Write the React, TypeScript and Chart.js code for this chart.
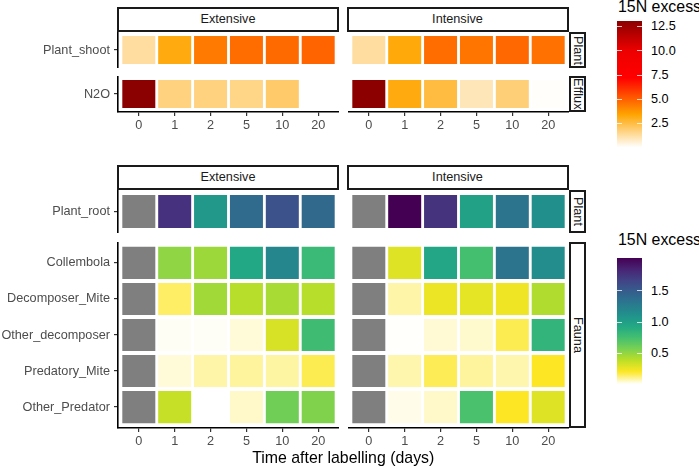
import React, { useEffect, useRef } from 'react';
import { Chart, registerables } from 'chart.js';

Chart.register(...registerables);

// ---------------- data ----------------
type Cell = number | null | 'NA';
type Stop = [number, string];

const days = ['0', '1', '2', '5', '10', '20'];
const systems = ['Extensive', 'Intensive'];

const plantShootRows = ['Plant_shoot'];
const effluxRows = ['N2O'];
const plantRootRows = ['Plant_root'];
const faunaRows = ['Collembola', 'Decomposer_Mite', 'Other_decomposer', 'Predatory_Mite', 'Other_Predator'];

const topFacets = ['Plant', 'Efflux'];
const bottomFacets = ['Plant', 'Fauna'];

// top heatmap (15N excess)
const shootExt: Cell[] = [1.27, 3.2, 4.4, 4.7, 4.75, 4.9];
const shootInt: Cell[] = [1.27, 3.25, 4.7, 4.5, 4.8, 4.6];
const n2oExt: Cell[] = [13.1, 1.7, 1.7, 1.6, 2.0, null];
const n2oInt: Cell[] = [13.05, 3.2, 2.55, 0.95, 1.8, 0.05];

// bottom heatmap (15N excess)
const rootExt: Cell[] = ['NA', 1.77, 1.06, 1.39, 1.57, 1.41];
const rootInt: Cell[] = ['NA', 2.03, 1.76, 0.99, 1.33, 1.12];

const collembolaExt: Cell[] = ['NA', 0.51, 0.47, 0.93, 1.19, 0.8];
const decompMiteExt: Cell[] = ['NA', 0.14, 0.46, 0.4, 0.44, 0.4];
const otherDecompExt: Cell[] = ['NA', 0.01, 0.008, 0.035, 0.31, 0.77];
const predMiteExt: Cell[] = ['NA', 0.036, 0.08, 0.09, 0.085, 0.16];
const otherPredExt: Cell[] = ['NA', 0.36, null, 0.05, 0.6, 0.55];

const collembolaInt: Cell[] = ['NA', 0.29, 0.95, 0.75, 1.33, 1.15];
const decompMiteInt: Cell[] = ['NA', 0.08, 0.25, 0.27, 0.24, 0.42];
const otherDecompInt: Cell[] = ['NA', 0.003, 0.04, 0.045, 0.16, 0.84];
const predMiteInt: Cell[] = ['NA', 0.075, 0.155, 0.09, 0.075, 0.2];
const otherPredInt: Cell[] = ['NA', 0.02, 0.05, 0.73, 0.2, 0.29];

const topLegendTicks = [2.5, 5.0, 7.5, 10.0, 12.5];
const bottomLegendTicks = [0.5, 1.0, 1.5];

const legendTitle = '15N excess';
const xTitle = 'Time after labelling (days)';

// ---------------- palettes ----------------
const topPalette: Stop[] = [
  [0, '#FFFFFF'],
  [3.4, '#FFA500'],
  [7.2, '#FF0000'],
  [10, '#EE0000'],
  [13.1, '#8B0000'],
];
const viridisRev = ['#FDE725', '#BDDF26', '#7AD151', '#44BF70', '#22A884', '#21918C', '#2A788E', '#355F8D', '#414487', '#482475', '#440154'];
const bottomPalette: Stop[] = [[0, '#FFFFFF'], ...viridisRev.map((c, i) => [0.2 + i * 0.183, c] as Stop)];
const NA_COLOR = '#7F7F7F';

function hexToRgb(h: string) {
  const n = parseInt(h.slice(1), 16);
  return [(n >> 16) & 255, (n >> 8) & 255, n & 255];
}
function colorFor(pal: Stop[], v: number): string {
  if (v <= pal[0][0]) return pal[0][1];
  for (let i = 1; i < pal.length; i++) {
    if (v <= pal[i][0]) {
      const [v0, c0] = pal[i - 1];
      const [v1, c1] = pal[i];
      const t = (v - v0) / (v1 - v0);
      const a = hexToRgb(c0);
      const b = hexToRgb(c1);
      const m = a.map((x, k) => Math.round(x + (b[k] - x) * t));
      return `rgb(${m[0]},${m[1]},${m[2]})`;
    }
  }
  return pal[pal.length - 1][1];
}
function numRange(lists: Cell[][]) {
  const vals = lists.flat().filter((v): v is number => typeof v === 'number');
  return [Math.min(...vals), Math.max(...vals)];
}

const FONT = '"Liberation Sans", Arial, Helvetica, sans-serif';
const AX_SIZE = 12.7;
const TITLE_SIZE = 15.9;

// ---------------- panel chart ----------------
interface PanelProps {
  rows: string[];
  values: Cell[][];
  palette: Stop[];
  left: number;
  top: number;
  width: number;
  height: number;
  showY: boolean;
  showX: boolean;
  half: number;
  xPad: number;
}

function Panel(p: PanelProps) {
  const ref = useRef<HTMLCanvasElement | null>(null);
  const yAxisW = p.showY ? p.left : 0;
  const xAxisH = p.showX ? 26 : 0;
  const cw = p.width + yAxisW;
  const ch = p.height + xAxisH;
  const canvasLeft = p.showY ? 0 : p.left;

  useEffect(() => {
    if (!ref.current) return;
    const datasets = p.rows.map((row, r) => {
      const pts: any[] = [];
      const cols: string[] = [];
      p.values[r].forEach((v, i) => {
        if (v === null) return;
        pts.push({ x: i, y: [r - p.half, r + p.half] });
        cols.push(v === 'NA' ? NA_COLOR : colorFor(p.palette, v));
      });
      return {
        label: row,
        data: pts,
        backgroundColor: cols,
        borderWidth: 0,
        grouped: false,
        barPercentage: 0.92,
        categoryPercentage: 1,
      };
    });
    const n = p.rows.length;
    const font = { family: FONT, size: AX_SIZE };
    const chart = new Chart(ref.current, {
      type: 'bar',
      data: { datasets } as any,
      options: {
        animation: false,
        responsive: false,
        maintainAspectRatio: false,
        devicePixelRatio: 1,
        layout: { padding: 0 },
        plugins: { legend: { display: false }, tooltip: { enabled: false } },
        scales: {
          x: {
            type: 'linear',
            min: -p.xPad,
            max: days.length - 1 + p.xPad,
            offset: false,
            display: p.showX,
            afterBuildTicks: (s: any) => {
              s.ticks = days.map((_, i) => ({ value: i }));
            },
            afterFit: (s: any) => {
              s.height = xAxisH;
              s.paddingLeft = 0;
              s.paddingRight = 0;
            },
            ticks: {
              callback: (v: any) => days[v],
              font,
              color: '#4D4D4D',
              padding: 1.5,
              autoSkip: false,
              maxRotation: 0,
              minRotation: 0,
            },
            grid: { display: true, drawOnChartArea: false, drawTicks: true, tickLength: 4, color: '#333333', lineWidth: 1.2, offset: false },
            border: { display: true, color: '#000000', width: 1.6 },
          },
          y: {
            type: 'linear',
            reverse: true,
            min: -0.58,
            max: n - 1 + 0.58,
            display: p.showY,
            afterBuildTicks: (s: any) => {
              s.ticks = p.rows.map((_, i) => ({ value: i }));
            },
            afterFit: (s: any) => {
              s.width = yAxisW;
              s.paddingTop = 0;
              s.paddingBottom = 0;
            },
            ticks: {
              callback: (v: any) => p.rows[v],
              font,
              color: '#4D4D4D',
              padding: 4,
              autoSkip: false,
            },
            grid: { display: true, drawOnChartArea: false, drawTicks: true, tickLength: 4, color: '#333333', lineWidth: 1.2 },
            border: { display: true, color: '#000000', width: 1.6 },
          },
        },
      } as any,
    });
    return () => chart.destroy();
  }, []);

  return (
    <canvas
      ref={ref}
      width={cw}
      height={ch}
      style={{ position: 'absolute', left: canvasLeft, top: p.top, width: cw, height: ch, display: 'block' }}
    />
  );
}

// ---------------- strips ----------------
function Strip(props: { text: string; left: number; top: number; width: number; height: number; vertical?: boolean }) {
  return (
    <div
      style={{
        position: 'absolute',
        left: props.left,
        top: props.top,
        width: props.width,
        height: props.height,
        boxSizing: 'border-box',
        border: '2px solid #1A1A1A',
        background: '#FFFFFF',
        display: 'flex',
        alignItems: 'center',
        justifyContent: 'center',
        fontFamily: FONT,
        fontSize: AX_SIZE,
        color: '#1A1A1A',
        lineHeight: 1,
        whiteSpace: 'nowrap',
        writingMode: props.vertical ? 'vertical-rl' : undefined,
      }}
    >
      {props.text}
    </div>
  );
}

// ---------------- colour bar legend ----------------
function ColorBar(props: { palette: Stop[]; min: number; max: number; ticks: number[]; top: number; titleTop: number }) {
  const left = 617;
  const width = 25;
  const height = 126;
  const ppu = height / (props.max - props.min);
  const stops: string[] = [];
  const N = 60;
  for (let i = 0; i <= N; i++) {
    const v = props.min + ((props.max - props.min) * i) / N;
    stops.push(`${colorFor(props.palette, v)} ${((i / N) * 100).toFixed(2)}%`);
  }
  return (
    <>
      <div
        style={{
          position: 'absolute',
          left: left + 1,
          top: props.titleTop,
          fontFamily: FONT,
          fontSize: TITLE_SIZE,
          lineHeight: `${TITLE_SIZE}px`,
          color: '#000',
          whiteSpace: 'nowrap',
        }}
      >
        {legendTitle}
      </div>
      <div
        style={{
          position: 'absolute',
          left,
          top: props.top,
          width,
          height,
          background: `linear-gradient(to top, ${stops.join(', ')})`,
        }}
      />
      {props.ticks.map((t) => {
        const y = props.top + (props.max - t) * ppu;
        return (
          <React.Fragment key={t}>
            <div style={{ position: 'absolute', left, top: y - 0.5, width: 5, height: 1, background: 'rgba(255,255,255,0.75)' }} />
            <div style={{ position: 'absolute', left: left + width - 5, top: y - 0.5, width: 5, height: 1, background: 'rgba(255,255,255,0.75)' }} />
            <div
              style={{
                position: 'absolute',
                left: 651,
                top: y - AX_SIZE / 2,
                fontFamily: FONT,
                fontSize: AX_SIZE,
                lineHeight: `${AX_SIZE}px`,
                color: '#000',
                whiteSpace: 'nowrap',
              }}
            >
              {t.toFixed(1)}
            </div>
          </React.Fragment>
        );
      })}
    </>
  );
}

// ---------------- app ----------------
export default function App() {
  const colLeft = [118, 347.5];
  const panelW = 221;
  const topValues = [
    [[shootExt], [n2oExt]],
    [[shootInt], [n2oInt]],
  ];
  const bottomValues = [
    [[rootExt], [collembolaExt, decompMiteExt, otherDecompExt, predMiteExt, otherPredExt]],
    [[rootInt], [collembolaInt, decompMiteInt, otherDecompInt, predMiteInt, otherPredInt]],
  ];
  const [tMin, tMax] = numRange([shootExt, shootInt, n2oExt, n2oInt]);
  const [bMin, bMax] = numRange(bottomValues.flat(2));

  const topRowsY = [
    { top: 32, height: 36 },
    { top: 76, height: 36 },
  ];
  const bottomRowsY = [
    { top: 190, height: 43 },
    { top: 242, height: 186 },
  ];
  const topRowLabels = [plantShootRows, effluxRows];
  const bottomRowLabels = [plantRootRows, faunaRows];

  return (
    <div
      style={{
        position: 'fixed',
        left: 0,
        top: 0,
        width: 699,
        height: 467,
        background: '#FFFFFF',
        overflow: 'hidden',
      }}
    >
      {systems.map((s, c) => (
        <React.Fragment key={s}>
          <Strip text={s} left={colLeft[c] - 1} top={7} width={panelW + 1} height={25} />
          <Strip text={s} left={colLeft[c] - 1} top={165} width={panelW + 1} height={25} />
          {topRowsY.map((ry, r) => (
            <Panel
              key={'t' + r}
              rows={topRowLabels[r]}
              values={topValues[c][r]}
              palette={topPalette}
              left={colLeft[c]}
              top={ry.top}
              width={panelW}
              height={ry.height}
              showY={c === 0}
              showX={r === 1}
              half={0.45}
              xPad={0.58}
            />
          ))}
          {bottomRowsY.map((ry, r) => (
            <Panel
              key={'b' + r}
              rows={bottomRowLabels[r]}
              values={bottomValues[c][r]}
              palette={bottomPalette}
              left={colLeft[c]}
              top={ry.top}
              width={panelW}
              height={ry.height}
              showY={c === 0}
              showX={r === 1}
              half={0.445}
              xPad={0.58}
            />
          ))}
        </React.Fragment>
      ))}
      {topFacets.map((f, r) => (
        <Strip key={'tf' + f} text={f} left={569} top={topRowsY[r].top} width={17} height={topRowsY[r].height} vertical />
      ))}
      {bottomFacets.map((f, r) => (
        <Strip key={'bf' + f} text={f} left={569} top={bottomRowsY[r].top} width={17} height={bottomRowsY[r].height} vertical />
      ))}
      <ColorBar palette={topPalette} min={tMin} max={tMax} ticks={topLegendTicks} top={21} titleTop={-1.5} />
      <ColorBar palette={bottomPalette} min={bMin} max={bMax} ticks={bottomLegendTicks} top={258} titleTop={232} />
      <div
        style={{
          position: 'absolute',
          left: colLeft[0],
          width: colLeft[1] + panelW - colLeft[0],
          top: 450,
          textAlign: 'center',
          fontFamily: FONT,
          fontSize: TITLE_SIZE,
          lineHeight: `${TITLE_SIZE}px`,
          color: '#000',
          whiteSpace: 'nowrap',
        }}
      >
        {xTitle}
      </div>
    </div>
  );
}
